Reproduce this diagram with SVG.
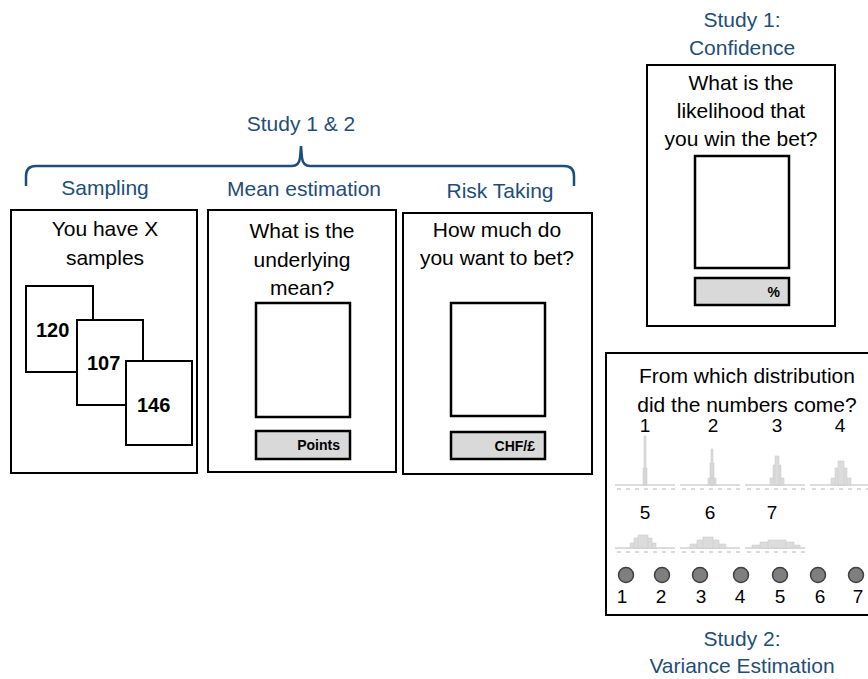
<svg xmlns="http://www.w3.org/2000/svg" width="868" height="679" viewBox="0 0 868 679">
<style>
.box{fill:#fff;stroke:#000;stroke-width:2}
.inner{fill:#fff;stroke:#000;stroke-width:2.5}
.bar{fill:#d9d9d9;stroke:#000;stroke-width:2.5}
.t{font-family:"Liberation Sans",Arial,sans-serif;font-size:21px;fill:#000;text-anchor:middle}
.b{font-family:"Liberation Sans",Arial,sans-serif;font-size:20px;font-weight:bold;fill:#000}
.u{font-family:"Liberation Sans",Arial,sans-serif;font-size:14px;font-weight:bold;fill:#000;text-anchor:end}
.h{font-family:"Liberation Sans",Arial,sans-serif;font-size:21px;fill:#1f4e79;text-anchor:middle}
.n{font-family:"Liberation Sans",Arial,sans-serif;font-size:19px;fill:#000;text-anchor:middle}
.dot{fill:#7f7f7f;stroke:#404040;stroke-width:1.5}
.ax{stroke:#d0d0d0;stroke-width:1.5}
.tk{stroke:#cfcfcf;stroke-width:1.5;stroke-dasharray:4 5}
.hb{fill:#dcdcdc;stroke:#c8c8c8;stroke-width:0.5}
</style>

<g id="header">
<text class="h" x="301" y="131">Study 1 &amp; 2</text>
<path d="M26,186 L26,176 Q26,166 36,166 L292,166 Q299,166 300,158 L301,146 L302,158 Q303,166 310,166 L564,166 Q574,166 574,176 L574,186" fill="none" stroke="#1f4e79" stroke-width="2.5"/>
<text class="h" x="105" y="195">Sampling</text>
<text class="h" x="304" y="196">Mean estimation</text>
<text class="h" x="500" y="198">Risk Taking</text>
</g>

<g id="sampling">
<rect class="box" x="11" y="210" width="186" height="263"/>
<text class="t" x="105" y="236">You have X</text>
<text class="t" x="105" y="265">samples</text>
<rect class="box" x="26" y="286" width="67" height="86"/>
<text class="b" x="36" y="337">120</text>
<rect class="box" x="77" y="320" width="66" height="85"/>
<text class="b" x="87" y="370">107</text>
<rect class="box" x="126" y="361" width="66" height="84"/>
<text class="b" x="137" y="412">146</text>
</g>

<g id="mean">
<rect class="box" x="208" y="210" width="188" height="262"/>
<text class="t" x="302" y="238">What is the</text>
<text class="t" x="302" y="267">underlying</text>
<text class="t" x="302" y="295">mean?</text>
<rect class="inner" x="256" y="303" width="94" height="114"/>
<rect class="bar" x="256" y="431" width="94" height="28"/>
<text class="u" x="340" y="450">Points</text>
</g>

<g id="risk">
<rect class="box" x="403" y="213" width="189" height="261"/>
<text class="t" x="497" y="237">How much do</text>
<text class="t" x="497" y="265">you want to bet?</text>
<rect class="inner" x="451" y="303" width="94" height="113"/>
<rect class="bar" x="451" y="432" width="94" height="27"/>
<text class="u" x="535" y="451">CHF/£</text>
</g>

<g id="confidence">
<text class="h" x="742" y="27">Study 1:</text>
<text class="h" x="742" y="55">Confidence</text>
<rect class="box" x="647" y="65" width="188" height="261"/>
<text class="t" x="741" y="90">What is the</text>
<text class="t" x="741" y="118">likelihood that</text>
<text class="t" x="741" y="146">you win the bet?</text>
<rect class="inner" x="695" y="156" width="94" height="112"/>
<rect class="bar" x="695" y="278" width="94" height="27"/>
<text class="u" x="780" y="297">%</text>
</g>

<g id="variance">
<rect class="box" x="606" y="353" width="280" height="262"/>
<text class="t" x="747" y="383">From which distribution</text>
<text class="t" x="747" y="412">did the numbers come?</text>
<text class="n" x="645" y="432">1</text>
<text class="n" x="713" y="432">2</text>
<text class="n" x="777" y="432">3</text>
<text class="n" x="840" y="432">4</text>
<g>
<line class="ax" x1="615" y1="485" x2="675" y2="485"/><line class="tk" x1="617" y1="489" x2="675" y2="489"/>
<rect class="hb" x="643" y="468" width="4" height="17"/><rect class="hb" x="644" y="436" width="2" height="49"/>
</g>
<g>
<line class="ax" x1="680" y1="485" x2="740" y2="485"/><line class="tk" x1="682" y1="489" x2="740" y2="489"/>
<rect class="hb" x="708" y="478" width="8" height="7"/><rect class="hb" x="710" y="463" width="4" height="22"/><rect class="hb" x="711" y="449" width="2" height="36"/>
</g>
<g>
<line class="ax" x1="745" y1="485" x2="805" y2="485"/><line class="tk" x1="747" y1="489" x2="805" y2="489"/>
<rect class="hb" x="770" y="478" width="14" height="7"/><rect class="hb" x="773" y="465" width="8" height="20"/><rect class="hb" x="775" y="456" width="4" height="29"/>
</g>
<g>
<line class="ax" x1="810" y1="485" x2="870" y2="485"/><line class="tk" x1="812" y1="489" x2="870" y2="489"/>
<rect class="hb" x="831" y="478" width="20" height="7"/><rect class="hb" x="835" y="468" width="12" height="17"/><rect class="hb" x="838" y="461" width="6" height="24"/>
</g>
<text class="n" x="645" y="519">5</text>
<text class="n" x="710" y="519">6</text>
<text class="n" x="772" y="519">7</text>
<g>
<line class="ax" x1="615" y1="548" x2="675" y2="548"/><line class="tk" x1="617" y1="552" x2="675" y2="552"/>
<rect class="hb" x="630" y="543" width="26" height="5"/><rect class="hb" x="634" y="538" width="18" height="10"/><rect class="hb" x="638" y="535" width="10" height="13"/>
</g>
<g>
<line class="ax" x1="680" y1="548" x2="740" y2="548"/><line class="tk" x1="682" y1="552" x2="740" y2="552"/>
<rect class="hb" x="690" y="544" width="36" height="4"/><rect class="hb" x="697" y="540" width="22" height="8"/><rect class="hb" x="703" y="537" width="10" height="11"/>
</g>
<g>
<line class="ax" x1="745" y1="548" x2="805" y2="548"/><line class="tk" x1="747" y1="552" x2="805" y2="552"/>
<rect class="hb" x="752" y="545" width="48" height="3"/><rect class="hb" x="760" y="542" width="34" height="6"/><rect class="hb" x="768" y="540" width="18" height="8"/>
</g>
<circle class="dot" cx="626" cy="575" r="7.5"/>
<circle class="dot" cx="662" cy="575" r="7.5"/>
<circle class="dot" cx="700" cy="575" r="7.5"/>
<circle class="dot" cx="741" cy="575" r="7.5"/>
<circle class="dot" cx="780" cy="575" r="7.5"/>
<circle class="dot" cx="818" cy="575" r="7.5"/>
<circle class="dot" cx="856" cy="575" r="7.5"/>
<text class="n" x="622" y="603">1</text>
<text class="n" x="661" y="603">2</text>
<text class="n" x="701" y="603">3</text>
<text class="n" x="740" y="603">4</text>
<text class="n" x="780" y="603">5</text>
<text class="n" x="820" y="603">6</text>
<text class="n" x="858" y="603">7</text>
<text class="h" x="742" y="646">Study 2:</text>
<text class="h" x="742" y="673">Variance Estimation</text>
</g>
</svg>
